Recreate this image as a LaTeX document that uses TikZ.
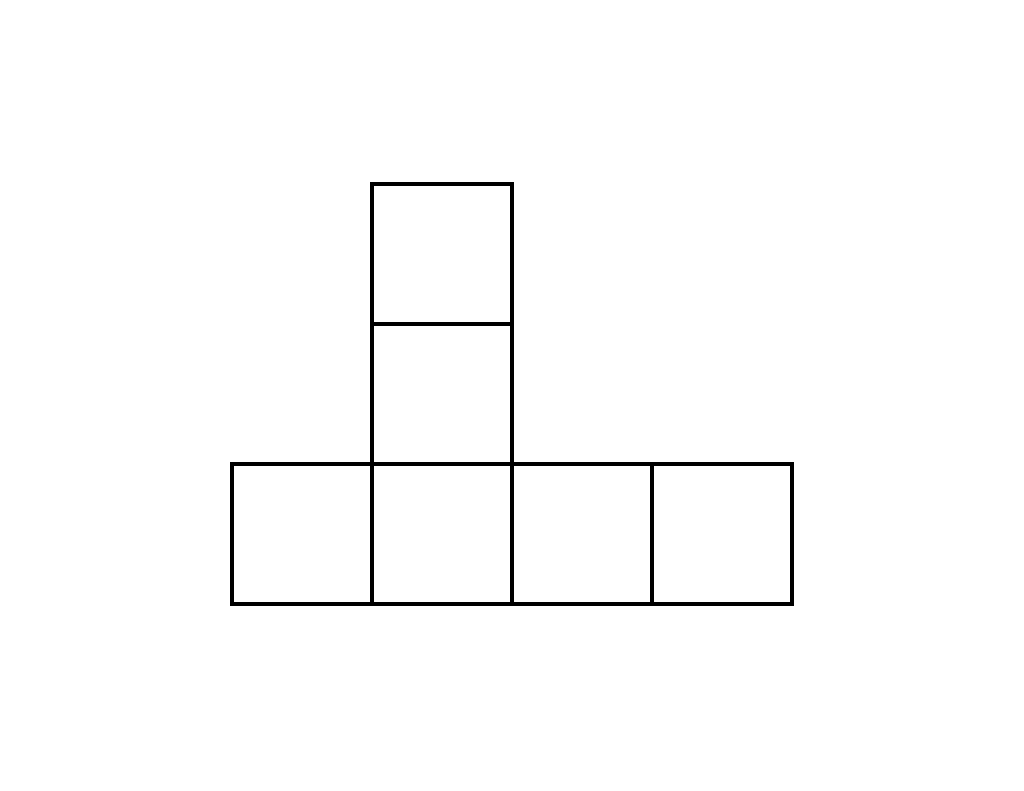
\documentclass[tikz,border=0pt]{standalone}
\usepackage{tikz}
\usetikzlibrary{positioning}

\begin{document}
\begin{tikzpicture}[
  face/.style={rectangle, draw, line width=0.1cm, minimum size=3.5cm, inner sep=0pt}
]
  \useasboundingbox (0,0) rectangle (25.6,19.775);

  \node[face] (left) at (7.55,6.425) {};
  \node[face] (base) at (11.05,6.425) {};
  \node[face] (right) at (14.55,6.425) {};
  \node[face] (back) at (18.05,6.425) {};

  \node[face] (front) at (11.05,9.925) {};
  \node[face] (top) at (11.05,13.425) {};
\end{tikzpicture}
\end{document}
